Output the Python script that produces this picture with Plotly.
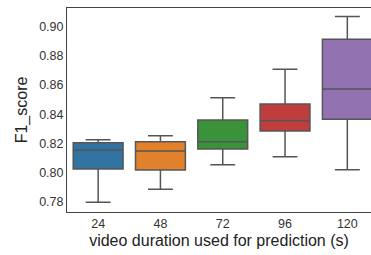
import plotly.graph_objects as go

categories = ["24", "48", "72", "96", "120"]
lower = [0.7796, 0.7885, 0.8053, 0.8108, 0.8019]
q1 = [0.8024, 0.8017, 0.8161, 0.8285, 0.8365]
median = [0.8154, 0.8147, 0.8211, 0.8355, 0.8573]
q3 = [0.8204, 0.8211, 0.8360, 0.8470, 0.8914]
upper = [0.8225, 0.8252, 0.8513, 0.8708, 0.9069]
colors = ["#3274A1", "#E1812C", "#3A923A", "#C03D3E", "#9372B2"]
yticks = [0.78, 0.80, 0.82, 0.84, 0.86, 0.88, 0.90]

fig = go.Figure()
for i, c in enumerate(categories):
    fig.add_trace(go.Box(
        x=[i], q1=[q1[i]], median=[median[i]], q3=[q3[i]],
        lowerfence=[lower[i]], upperfence=[upper[i]],
        fillcolor=colors[i], line=dict(color="#555555", width=1.5),
        width=0.8, whiskerwidth=0.5, boxpoints=False, name=c,
        showlegend=False, hoverinfo="skip",
    ))

font = "Liberation Sans, Arial, sans-serif"
fig.update_layout(
    width=371, height=255,
    margin=dict(l=67, r=0, t=8, b=43),
    plot_bgcolor="white", paper_bgcolor="white",
    boxmode="overlay",
    font=dict(family=font, color="#333333", size=12),
    xaxis=dict(
        range=[-0.5, 4.38], tickvals=list(range(len(categories))),
        ticktext=categories, showgrid=False, zeroline=False,
        showline=True, mirror=True, linecolor="#444444", linewidth=1,
        ticks="", tickfont=dict(size=12.5, color="#333333"), automargin=False,
        title=dict(text="video duration used for prediction (s)",
                   font=dict(size=16, color="#222222"), standoff=4),
    ),
    yaxis=dict(
        range=[0.7729, 0.9128], tickvals=yticks, tickformat=".2f",
        showgrid=False, zeroline=False, showline=True, mirror=True,
        linecolor="#444444", linewidth=1, ticks="", automargin=False,
        tickfont=dict(size=12.5, color="#333333"),
        title=dict(text="F1_score", font=dict(size=16, color="#222222"), standoff=7),
    ),
)
fig.write_html("out.html", config={"displayModeBar": False},
               post_script="document.body.style.margin='0';")
